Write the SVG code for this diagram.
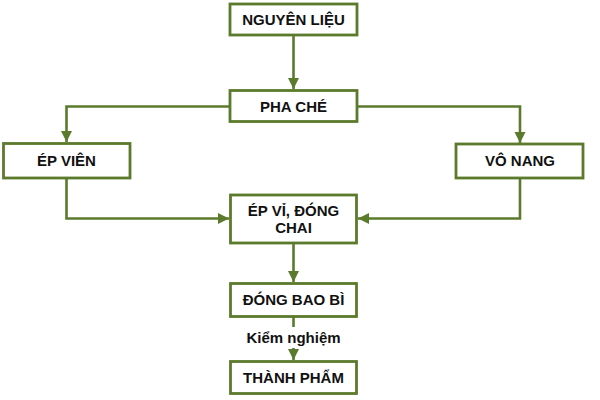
<svg xmlns="http://www.w3.org/2000/svg" width="600" height="400" viewBox="0 0 600 400">
<defs>
<style>
.box{fill:#fff;stroke:#5b7a2c;stroke-width:2.8}
.t{font-family:"Liberation Sans",Arial,sans-serif;font-weight:bold;font-size:15px;fill:#111;text-anchor:middle}
.c{fill:none;stroke:#5b7a2c;stroke-width:2.6}
</style>
<marker id="ah" markerUnits="userSpaceOnUse" markerWidth="12" markerHeight="12" viewBox="0 0 12 12" refX="11" refY="6" orient="auto">
<path d="M0,0.5 L11,6 L0,11.5 Z" fill="#5b7a2c"/>
</marker>
</defs>
<rect width="600" height="400" fill="#fff"/>
<g id="connectors">
<path class="c" d="M293.5,35 V89" marker-end="url(#ah)"/>
<path class="c" d="M230,106.5 H66.5 V142" marker-end="url(#ah)"/>
<path class="c" d="M357,106.5 H520 V143" marker-end="url(#ah)"/>
<path class="c" d="M66.5,178 V218.5 H229" marker-end="url(#ah)"/>
<path class="c" d="M520,178 V218.5 H358" marker-end="url(#ah)"/>
<path class="c" d="M293.5,243 V282" marker-end="url(#ah)"/>
<path class="c" d="M293.5,317 V360" marker-end="url(#ah)"/>
<rect x="240" y="327" width="107" height="21" fill="#fff"/>
<text class="t" x="293.5" y="343">Kiểm nghiệm</text>
</g>
<g id="nguyen-lieu">
<rect class="box" x="230" y="4" width="127" height="31"/>
<text class="t" x="293.5" y="25">NGUYÊN LIỆU</text>
</g>
<g id="pha-che">
<rect class="box" x="230" y="90.5" width="127" height="31"/>
<text class="t" x="293.5" y="111.5">PHA CHÉ</text>
</g>
<g id="ep-vien">
<rect class="box" x="3.5" y="143.5" width="126.5" height="34.5"/>
<text class="t" x="66.5" y="165.5">ÉP VIÊN</text>
</g>
<g id="vo-nang">
<rect class="box" x="456" y="144" width="127" height="34"/>
<text class="t" x="520" y="165.5">VÔ NANG</text>
</g>
<g id="ep-vi-dong-chai">
<rect class="box" x="230.5" y="195" width="126" height="48"/>
<text class="t" x="293.5" y="215.5">ÉP VỈ, ĐÓNG</text>
<text class="t" x="293.5" y="232.5">CHAI</text>
</g>
<g id="dong-bao-bi">
<rect class="box" x="230.5" y="283.5" width="126" height="33"/>
<text class="t" x="293.5" y="305">ĐÓNG BAO BÌ</text>
</g>
<g id="thanh-pham">
<rect class="box" x="230.5" y="361.5" width="126" height="32"/>
<text class="t" x="293.5" y="383">THÀNH PHẨM</text>
</g>
</svg>
